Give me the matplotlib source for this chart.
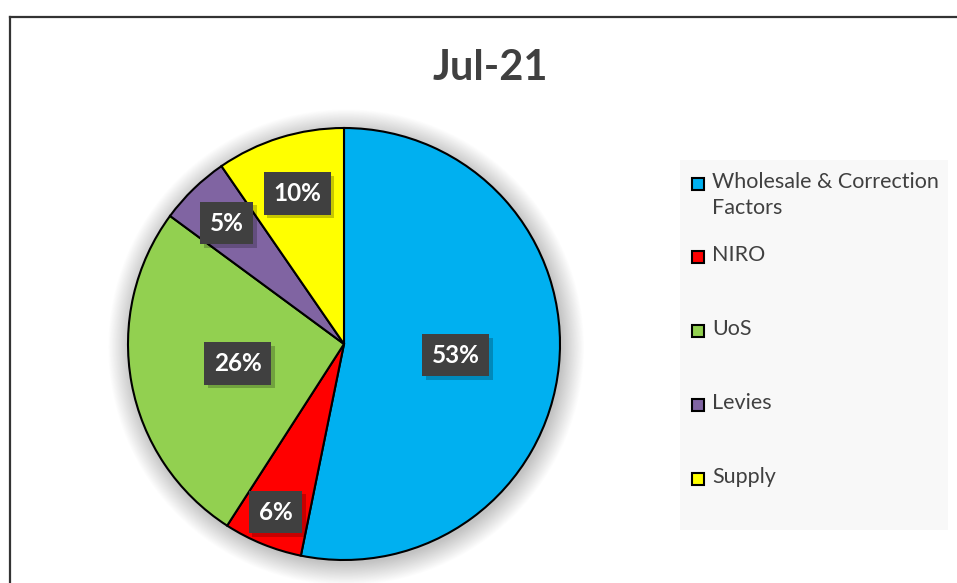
import textwrap
import matplotlib
matplotlib.use('Agg')
import matplotlib.pyplot as plt
import matplotlib.patheffects as pe
from matplotlib.patches import Rectangle, Circle
from matplotlib.lines import Line2D
import numpy as np

plt.rcParams['font.family'] = ['Lato', 'DejaVu Sans']

# Data
title = 'Jul-21'
categories = ['Wholesale & Correction Factors', 'NIRO', 'UoS', 'Levies', 'Supply']
shares = [53.2, 5.9, 26.0, 5.3, 9.6]
colors = ['#00B0F0', '#FF0000', '#92D050', '#8064A2', '#FFFF00']
label_dist = [0.52, 0.84, 0.50, 0.78, 0.73]

W, H = 957, 583
fig = plt.figure(figsize=(W / 100, H / 100), dpi=100)

# chart frame (left and top edges only are visible)
fig.add_artist(Line2D([9.5 / W, 9.5 / W], [0, 1 - 16.5 / H], color='#333333', lw=1.6))
fig.add_artist(Line2D([9.5 / W, 1], [1 - 16.5 / H, 1 - 16.5 / H], color='#333333', lw=1.6))

fig.text(490 / W, 1 - 68 / H, title, ha='center', va='center', fontsize=30,
         fontweight='bold', color='#404040')

# pie axes: centre (344,344) px, radius 216 px
cx, cy, r = 344, 344, 216
ax = fig.add_axes([(cx - r) / W, (H - cy - r) / H, 2 * r / W, 2 * r / H])

# soft shadow behind the pie
for k in range(30):
    ax.add_patch(Circle((0.01, -0.015), 1.0 + 0.0035 * k, color='black',
                        alpha=0.007, lw=0, zorder=0, clip_on=False))

wedges, _ = ax.pie(shares, colors=colors, startangle=90, counterclock=False,
                   radius=1.0, wedgeprops=dict(edgecolor='black', linewidth=1.5))
for w in wedges:
    w.set_zorder(2)
ax.set_xlim(-1, 1)
ax.set_ylim(-1, 1)
ax.axis('off')

total = sum(shares)
start = 90.0
for val, d in zip(shares, label_dist):
    mid = np.deg2rad(start - 360 * val / total / 2)
    start -= 360 * val / total
    t = ax.text(d * np.cos(mid), d * np.sin(mid), f'{round(val / total * 100):.0f}%',
                ha='center', va='center', color='white', fontsize=17.5, fontweight='bold',
                zorder=5, clip_on=False,
                bbox=dict(boxstyle='square,pad=0.4', facecolor='#404040', edgecolor='none'))
    t.get_bbox_patch().set_path_effects([
        pe.SimplePatchShadow(offset=(2.5, -2.5), shadow_rgbFace='black', alpha=0.22),
        pe.Normal()])

# legend panel
fig.add_artist(Rectangle((680 / W, 1 - 530 / H), 268 / W, 370 / H,
                         facecolor='#F8F8F8', edgecolor='none'))
legend_y = [184, 257, 331, 405, 479]
for name, col, y in zip(categories, colors, legend_y):
    fig.add_artist(Rectangle((692 / W, 1 - (y + 6) / H), 12 / W, 12 / H,
                             facecolor=col, edgecolor='black', lw=1.5))
    fig.text(712 / W, 1 - (y - 12) / H, textwrap.fill(name, 22), ha='left', va='top',
             fontsize=15.5, color='#404040', linespacing=1.4)

fig.savefig('out.png', dpi=100)
